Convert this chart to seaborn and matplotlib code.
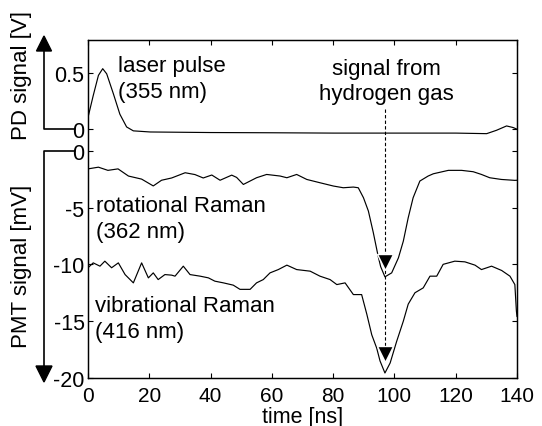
import matplotlib
matplotlib.use("Agg")
import matplotlib.pyplot as plt
import matplotlib.ticker as mticker
from matplotlib.patches import Polygon
from matplotlib.lines import Line2D
import seaborn as sns

# ---------------- data ----------------
pd_time = [0, 1.7, 3.4, 4.8, 6.1, 8.3, 10.4, 12.6, 14.8, 20.3, 40, 60, 80, 100,
           120, 130.1, 133.3, 136.6, 138.7, 140]
pd_signal = [0.10, 0.295, 0.476, 0.536, 0.49, 0.31, 0.129, 0.015, -0.02, -0.03,
             -0.035, -0.037, -0.04, -0.04, -0.04, -0.045, -0.015, 0.024, 0.01, -0.005]

rot_time = [0, 3.4, 6.5, 9.8, 13.2, 17.5, 21.3, 24.0, 27.3, 31.7, 34.9, 37.6, 40.4,
            43.1, 46.9, 48.5, 50.7, 55.0, 58.3, 62.7, 64.9, 68.1, 71.4, 75.7, 80.1,
            83.3, 86.6, 88.2, 89.9, 91.5, 93.1, 94.7, 95.5, 96.9, 99.1, 101.3, 102.9,
            104.5, 106.1, 108.3, 111.0, 112.7, 117.6, 121.9, 125.7, 128.4, 131.1,
            134.9, 139.3, 140]
rot_signal = [-1.6, -1.45, -1.73, -1.6, -2.23, -2.5, -3.1, -2.6, -2.4, -1.94, -2.1,
              -2.4, -2.14, -2.6, -2.15, -2.35, -2.97, -2.38, -2.09, -2.23, -2.38,
              -2.09, -2.53, -2.82, -3.11, -3.26, -3.2, -3.26, -4.14, -5.31, -7.2,
              -9.3, -10.2, -11.1, -10.75, -9.43, -7.96, -5.9, -4.14, -2.67, -2.23,
              -2.03, -1.73, -1.73, -1.85, -2.09, -2.38, -2.53, -2.61, -2.6]

vib_time = [0, 1.7, 3.9, 5.5, 7.7, 9.9, 12.1, 14.8, 17.5, 19.7, 21.3, 22.9, 25.1,
            27.3, 28.4, 31.1, 33.3, 36.6, 39.3, 41.4, 44.2, 47.4, 49.6, 52.9, 55.0,
            57.2, 59.4, 62.1, 64.9, 68.1, 72.5, 75.7, 79.0, 81.2, 83.9, 86.6, 89.3,
            91.0, 92.6, 94.2, 95.3, 96.9, 98.6, 100.7, 102.9, 104.5, 106.7, 109.4,
            111.6, 113.8, 115.9, 119.7, 123.0, 126.3, 128.4, 131.7, 135.0, 137.7,
            139.3, 139.8, 140]
vib_signal = [-10.3, -9.87, -10.16, -9.72, -10.3, -9.87, -10.9, -11.63, -9.87,
              -11.19, -10.75, -11.34, -10.9, -10.95, -11.04, -10.16, -10.9, -11.04,
              -11.19, -11.48, -11.63, -11.83, -12.2, -12.2, -11.63, -11.34, -10.75,
              -10.46, -10.07, -10.46, -10.6, -11.04, -11.34, -11.78, -11.63, -12.66,
              -12.66, -14.4, -16.2, -17.36, -18.5, -19.56, -18.68, -16.8, -15.0,
              -13.5, -12.5, -12.07, -11.04, -11.04, -10.0, -9.72, -9.78, -10.07,
              -10.46, -10.16, -10.54, -11.04, -11.78, -14.1, -14.6]

x_ticks = [0, 20, 40, 60, 80, 100, 120, 140]
pmt_ticks = [0, -5, -10, -15, -20]
pd_ticks = [0, 0.5]

x_label = "time [ns]"
pd_label = "PD signal [V]"
pmt_label = "PMT signal [mV]"
laser_text = "laser pulse\n(355 nm)"
h2_text = "signal from\nhydrogen gas"
rot_text = "rotational Raman\n(362 nm)"
vib_text = "vibrational Raman\n(416 nm)"

# hydrogen-signal marker position (time) and arrow levels (mV)
h2_time = 97.0
h2_line_top = 3.67
rot_arrow = -9.83
vib_arrow = -17.9

# ---------------- styling ----------------
sns.set_theme(style="ticks")
plt.rcParams['font.family'] = ['Liberation Sans', 'DejaVu Sans']
plt.rcParams['axes.unicode_minus'] = False

W, H = 542, 427
fig = plt.figure(figsize=(W / 100, H / 100), dpi=100)
fig.patch.set_facecolor('white')

def fx(px):
    return px / W

def fy(py):
    return 1 - py / H

ax = fig.add_axes([fx(88), fy(379), 429 / W, 338 / H])
ax2 = ax.twinx()
ax.set_facecolor('white')

line_kw = dict(color='black', linewidth=0.85)
sns.lineplot(x=rot_time, y=rot_signal, ax=ax, **line_kw)
sns.lineplot(x=vib_time, y=vib_signal, ax=ax, **line_kw)
sns.lineplot(x=pd_time, y=pd_signal, ax=ax2, **line_kw)

ax.set_xlim(0, 140)
ax.set_ylim(-20, 9.74)
ax2.set_ylim(-2.23, 0.7925)

ax.set_xticks(x_ticks)
ax.set_yticks(pmt_ticks)
ax2.set_yticks(pd_ticks)
fmt = mticker.FuncFormatter(lambda v, p: f"{v:g}")
ax.xaxis.set_major_formatter(fmt)
ax.yaxis.set_major_formatter(fmt)
ax2.yaxis.set_major_formatter(fmt)

ax.tick_params(axis='x', direction='in', top=True, bottom=True, length=3.5,
               width=0.8, pad=5.5, labelsize=15, colors='black')
ax.tick_params(axis='y', direction='in', left=True, right=True, labelleft=True,
               labelright=False, length=3.5, width=0.8, pad=2.5, labelsize=15.5,
               colors='black')
ax2.tick_params(axis='y', direction='in', left=True, right=True, labelleft=True,
                labelright=False, length=3.5, width=0.8, pad=2.5, labelsize=15.5,
                colors='black')
for a in (ax, ax2):
    for s in a.spines.values():
        s.set_color('black')
        s.set_linewidth(0.9)
        s.set_visible(True)
ax.set_ylabel("")
ax2.set_ylabel("")

ax.set_xlabel(x_label, fontsize=15.5, color='black')
ax.xaxis.set_label_coords(0.5, -0.082)
ax.xaxis.label.set_verticalalignment('top')

# dashed marker line and arrowheads for hydrogen signal
ax.plot([h2_time, h2_time], [h2_line_top, vib_arrow], color='black',
        linewidth=0.8, linestyle=(0, (3, 2)), zorder=3)
ax.plot([h2_time, h2_time], [rot_arrow, vib_arrow], linestyle='none', marker='v',
        markersize=11, markerfacecolor='black', markeredgecolor='white',
        markeredgewidth=1.0, zorder=4)

# annotations
txt_kw = dict(fontsize=16, color='black', linespacing=1.3)
ax.text(9.8, 8.38, laser_text, ha='left', va='top', **txt_kw)
ax.text(97.3, 8.20, h2_text, ha='center', va='top', multialignment='center', **txt_kw)
ax.text(2.6, -3.90, rot_text, ha='left', va='top', **txt_kw)
ax.text(2.3, -12.70, vib_text, ha='left', va='top', **txt_kw)

# left-side axis labels with bracket arrows
fig.text(fx(22), fy(75), pd_label, rotation=90, ha='center', va='center',
         fontsize=16, color='black')
fig.text(fx(22), fy(266), pmt_label, rotation=90, ha='center', va='center',
         fontsize=16, color='black')

tf = fig.transFigure
fig.add_artist(Line2D([fx(75), fx(44), fx(44)], [fy(130), fy(130), fy(52)],
                      transform=tf, color='black', linewidth=1.2))
fig.add_artist(Polygon([(fx(36.5), fy(52)), (fx(51.5), fy(52)), (fx(44), fy(37))],
                       closed=True, transform=tf, facecolor='black',
                       edgecolor='black'))
fig.add_artist(Line2D([fx(75), fx(44), fx(44)], [fy(152), fy(152), fy(367)],
                      transform=tf, color='black', linewidth=1.2))
fig.add_artist(Polygon([(fx(36), fy(367)), (fx(52), fy(367)), (fx(44), fy(383))],
                       closed=True, transform=tf, facecolor='black',
                       edgecolor='black'))

fig.savefig("out.png", dpi=100, facecolor='white')
